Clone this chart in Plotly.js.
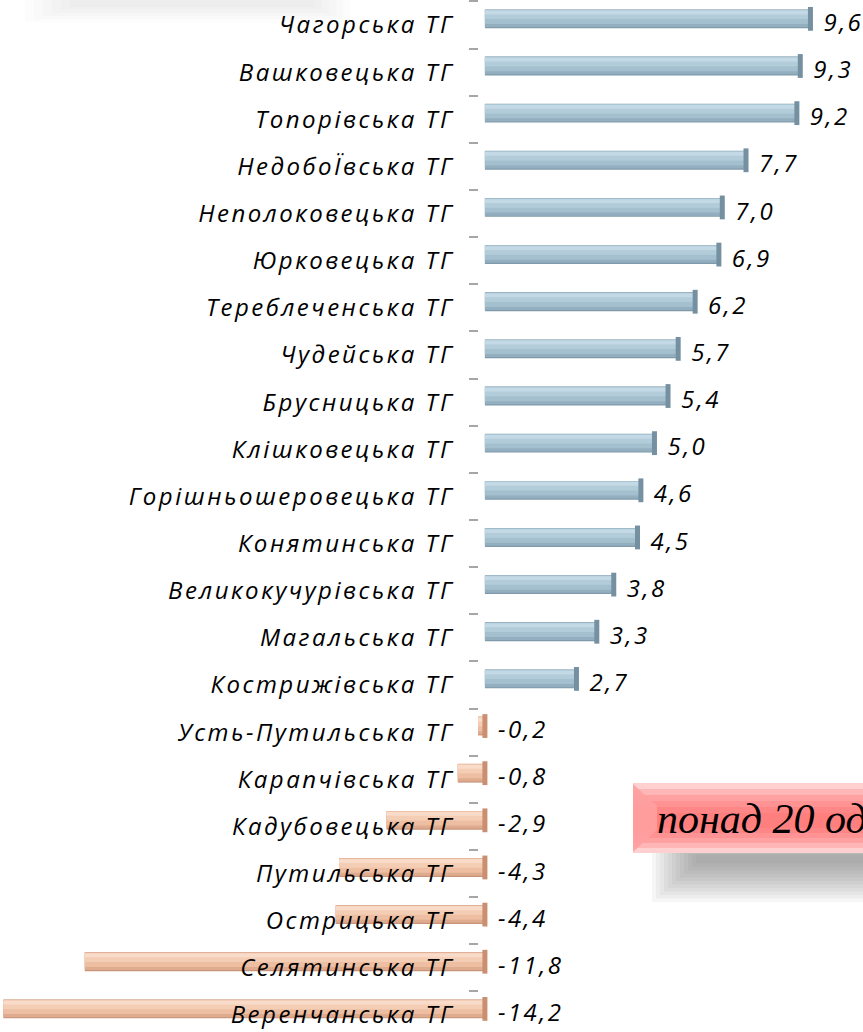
<!DOCTYPE html>
<html>
<head>
<meta charset="utf-8">
<script src="https://cdn.plot.ly/plotly-3.0.1.min.js"></script>
<style>
  html, body { margin: 0; padding: 0; background: #fff; }
  #chart { width: 863px; height: 1032px; }
  /* the original labels are set wide, like stretched Calibri */
  #chart .ytick text, #chart .textpoint text { letter-spacing: 2.5px; }
</style>
</head>
<body>
<div id="chart"></div>
<script>
var communities = [
  'Чагорська ТГ', 'Вашковецька ТГ', 'Топорівська ТГ', 'НедобоЇвська ТГ',
  'Неполоковецька ТГ', 'Юрковецька ТГ', 'Тереблеченська ТГ', 'Чудейська ТГ',
  'Брусницька ТГ', 'Клішковецька ТГ', 'Горішньошеровецька ТГ', 'Конятинська ТГ',
  'Великокучурівська ТГ', 'Магальська ТГ', 'Кострижівська ТГ', 'Усть-Путильська ТГ',
  'Карапчівська ТГ', 'Кадубовецька ТГ', 'Путильська ТГ', 'Острицька ТГ',
  'Селятинська ТГ', 'Веренчанська ТГ'
];
var values = [
  9.6, 9.3, 9.2, 7.7, 7.0, 6.9, 6.2, 5.7, 5.4, 5.0, 4.6,
  4.5, 3.8, 3.3, 2.7, -0.2, -0.8, -2.9, -4.3, -4.4, -11.8, -14.2
];
var boxText = 'понад 20 од';

var W = 863, H = 1032;
var pos = communities.map(function (c, i) { return i; });
var labels = values.map(function (v) { return v.toFixed(1).replace('.', ','); });
var labelX = values.map(function (v) { return v > 0 ? v : 0; });

var font = { family: '"Open Sans", Lato, sans-serif', style: 'italic', color: '#000' };

// cylinder look: stacked bars, each a bit narrower and lighter
var posShades = ['#7f9aaa', '#93afbf', '#a4c0cf', '#b2ccda', '#c3d9e5'];
var negShades = ['#c8937a', '#dfab8f', '#edbea2', '#f4cdb5', '#f9dbc9'];
var shadeWidth = [0.40, 0.37, 0.30, 0.19, 0.08];
var shadeOffset = [-0.33, -0.325, -0.32, -0.315, -0.305];

var data = shadeWidth.map(function (w, k) {
  return {
    type: 'bar', orientation: 'h', x: values, y: pos,
    width: w, offset: shadeOffset[k],
    marker: {
      color: values.map(function (v) { return v >= 0 ? posShades[k] : negShades[k]; }),
      line: { width: 0 }
    },
    hoverinfo: 'none', showlegend: false
  };
});

data.push({
  // end caps of the cylinders
  type: 'scatter', mode: 'markers', x: labelX,
  y: pos.map(function (p) { return p - 0.13; }),
  marker: {
    symbol: 'line-ns', size: 17,
    line: { width: 5, color: values.map(function (v) { return v >= 0 ? '#7590a0' : '#c98f70'; }) }
  },
  hoverinfo: 'none', showlegend: false
});
data.push({
  type: 'scatter', mode: 'text', x: labelX, y: pos,
  text: labels.map(function (t) { return '\u2009\u2009' + t; }),
  textposition: 'middle right',
  textfont: Object.assign({ size: 24 }, font),
  cliponaxis: false, hoverinfo: 'none', showlegend: false
});

function px(x) { return x / W; }
function py(y) { return 1 - y / H; }

var shapes = [];
// faint shadow at the top left
for (var k = 0; k < 6; k++) {
  shapes.push({
    type: 'rect', xref: 'paper', yref: 'paper', layer: 'below',
    x0: px(25 + k * 9), x1: px(350 - k * 7), y0: py(22 - k * 3), y1: py(0),
    fillcolor: 'rgba(0,0,0,0.013)', line: { width: 0 }
  });
}
// soft shadow under the pink box
for (var s = 0; s < 12; s++) {
  shapes.push({
    type: 'rect', xref: 'paper', yref: 'paper',
    x0: px(652 + s * 4), x1: px(880), y0: py(902 - s * 3.5), y1: py(850 + s * 0.4),
    fillcolor: 'rgba(110,110,110,0.06)', line: { width: 0 }
  });
}
// pink box, lighter at the edges
var boxShades = ['#ffd0d0', '#ffb6b6', '#ffa1a1', '#ff9292', '#ff8686', '#ff7f7f'];
boxShades.forEach(function (c, i) {
  shapes.push({
    type: 'rect', xref: 'paper', yref: 'paper',
    x0: px(633), x1: px(880), y0: py(853 - i * 5), y1: py(783 + i * 6),
    fillcolor: c, line: { width: 0 }
  });
});
shapes.push({
  type: 'path', xref: 'paper', yref: 'paper',
  path: 'M ' + px(633) + ',' + py(784) + ' L ' + px(657) + ',' + py(806) +
        ' L ' + px(657) + ',' + py(830) + ' L ' + px(633) + ',' + py(852) + ' Z',
  fillcolor: 'rgba(255,160,160,0.9)', line: { width: 0 }
});

var layout = {
  width: W, height: H,
  margin: { l: 0, r: 0, t: 0, b: 0 },
  paper_bgcolor: '#fff', plot_bgcolor: 'rgba(0,0,0,0)',
  barmode: 'overlay',
  showlegend: false,
  xaxis: {
    range: [-14.3, 11.15], visible: false, fixedrange: true
  },
  yaxis: {
    range: [21.36, -0.53],
    anchor: 'free', position: 478 / W,
    tickmode: 'array', tickvals: pos, ticktext: communities,
    ticks: '', showgrid: false, zeroline: false, showline: false,
    ticklabelstandoff: 24,
    tickfont: Object.assign({ size: 24 }, font),
    minor: {
      tickmode: 'linear', tick0: -0.5, dtick: 1,
      ticks: 'outside', ticklen: 9, tickwidth: 2, tickcolor: '#a6a6a6',
      showgrid: false
    },
    fixedrange: true
  },
  shapes: shapes,
  annotations: [{
    xref: 'paper', yref: 'paper', x: px(655), y: py(819),
    xanchor: 'left', yanchor: 'middle', showarrow: false,
    text: boxText,
    font: { family: '"Liberation Serif", "DejaVu Serif", serif', style: 'italic', size: 42, color: '#000' }
  }]
};

Plotly.newPlot('chart', data, layout, { displayModeBar: false, staticPlot: true });
</script>
</body>
</html>
